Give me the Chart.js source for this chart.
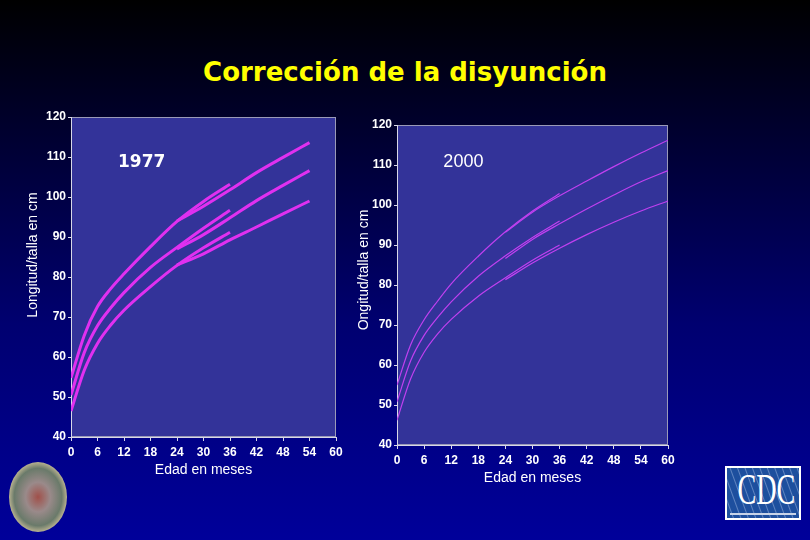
<!DOCTYPE html>
<html>
<head>
<meta charset="utf-8">
<script src="https://cdn.jsdelivr.net/npm/chart.js@4.4.0/dist/chart.umd.min.js"></script>
<style>
html, body { margin: 0; padding: 0; }
body {
  width: 810px; height: 540px; overflow: hidden; position: relative;
  background: linear-gradient(to bottom, #000000 0%, #000030 25%, #000070 60%, #00009a 100%);
  font-family: Arial, "Liberation Sans", sans-serif;
}
#title {
  position: absolute; left: 0; top: 57px; width: 810px; text-align: center;
  color: #ffff00; font: bold 26px "DejaVu Sans", Verdana, sans-serif;
}
canvas { position: absolute; }
#seal {
  position: absolute; left: 9px; top: 462px; width: 58px; height: 70px; border-radius: 50%;
  background: radial-gradient(ellipse at center, #a0504a 0%, #9a8a8a 30%, #6a7a6a 58%, #d8c8a0 76%, #8a7450 100%);
}
#cdc {
  position: absolute; left: 725px; top: 466px; width: 72px; height: 50px;
  border: 2px solid #ffffff; overflow: hidden; color: #ffffff;
  background: repeating-linear-gradient(70deg, #1d4f9e 0px, #1d4f9e 5px, #5f84c0 6px, #1d4f9e 7px);
}
#cdc span {
  position: absolute; left: -4px; top: 2px; width: 80px; text-align: center;
  font: 44px "Liberation Serif", "DejaVu Serif", serif; line-height: 40px;
  transform: scaleX(0.64); transform-origin: center;
}
#cdc i {
  position: absolute; left: 3px; right: 3px; bottom: 3px; height: 2px; background: #c8d4e8;
}
</style>
</head>
<body>
<div id="title">Corrección de la disyunción</div>
<canvas id="c1977" width="360" height="390" style="left:0px;top:100px"></canvas>
<canvas id="c2000" width="350" height="390" style="left:340px;top:100px"></canvas>
<div id="seal"></div>
<div id="cdc"><span>CDC</span><i></i></div>
<script>
// ages in months, length/height in cm
const xTicks = [0, 6, 12, 18, 24, 30, 36, 42, 48, 54, 60];

// 1977 (NCHS) - infant length 0-36, child height 24-54
const infantAges1977 = [0, 3, 6, 9, 12, 18, 24, 30, 36];
const p5Infant1977  = [46.5, 56.7, 63.4, 68.0, 71.7, 77.6, 82.9, 87.3, 91.2];
const p50Infant1977 = [50.5, 61.1, 67.8, 72.3, 76.1, 82.4, 87.4, 92.2, 96.7];
const p95Infant1977 = [54.8, 65.4, 72.6, 77.1, 80.8, 87.6, 93.9, 98.9, 103.2];
const childAges1977 = [24, 30, 36, 42, 48, 54];
const p5Child1977  = [83.0, 85.8, 89.3, 92.5, 95.8, 99.0];
const p50Child1977 = [87.0, 90.6, 94.8, 99.1, 102.9, 106.6];
const p95Child1977 = [94.0, 97.7, 101.8, 106.1, 109.9, 113.6];

// 2000 (CDC) - infant length 0-36, child height 24-60
const infantAges2000 = [0, 3, 6, 9, 12, 18, 24, 30, 36];
const p5Infant2000  = [46.2, 56.5, 63.2, 67.8, 71.4, 77.2, 81.8, 86.2, 90.0];
const p50Infant2000 = [50.8, 61.0, 67.4, 71.9, 75.8, 82.2, 87.3, 91.9, 96.0];
const p95Infant2000 = [55.0, 65.0, 71.3, 76.0, 80.3, 87.2, 93.3, 98.5, 102.9];
const childAges2000 = [24, 30, 36, 42, 48, 54, 60];
const p5Child2000  = [81.3, 85.5, 89.2, 92.6, 95.7, 98.5, 101.0];
const p50Child2000 = [86.6, 91.4, 95.3, 99.0, 102.5, 105.8, 108.6];
const p95Child2000 = [93.2, 98.2, 102.3, 106.0, 109.6, 113.0, 116.2];

const pts = (ages, vals) => ages.map((a, i) => ({x: a, y: vals[i]}));

// fills the plot area, frames it, writes the year and the side title
const plotFrame = {
  id: 'plotFrame',
  beforeDraw(chart) {
    const {ctx, chartArea: a} = chart;
    ctx.save();
    ctx.fillStyle = '#333399';
    ctx.fillRect(a.left, a.top, a.width, a.height);
    ctx.strokeStyle = '#9a9ab8';
    ctx.lineWidth = 1;
    ctx.strokeRect(a.left + 0.5, a.top + 0.5, a.width - 1, a.height - 1);
    ctx.restore();
  },
  afterDatasetsDraw(chart, args, opts) {
    const ctx = chart.ctx;
    ctx.save();
    ctx.fillStyle = '#ffffff';
    ctx.textAlign = 'center';
    ctx.textBaseline = 'middle';
    ctx.font = opts.font;
    ctx.fillText(opts.text, chart.scales.x.getPixelForValue(opts.x), chart.scales.y.getPixelForValue(opts.y));
    // y title sits higher than the plot centre in the original
    ctx.font = '14px Arial, "Liberation Sans", sans-serif';
    ctx.translate(opts.sideX, opts.sideY);
    ctx.rotate(-Math.PI / 2);
    ctx.fillText(opts.side, 0, 0);
    ctx.restore();
  }
};

function growthChart(id, o) {
  const sets = [];
  [[o.infantAges, o.infant], [o.childAges, o.child]].forEach(([ages, group]) => {
    group.forEach(vals => sets.push({
      data: pts(ages, vals),
      borderColor: o.color,
      borderWidth: o.width,
      pointRadius: 0,
      fill: false,
      cubicInterpolationMode: 'monotone'
    }));
  });
  return new Chart(document.getElementById(id), {
    type: 'line',
    data: {datasets: sets},
    plugins: [plotFrame],
    options: {
      responsive: false,
      animation: false,
      layout: {padding: o.pad},
      plugins: {
        legend: {display: false},
        tooltip: {enabled: false},
        plotFrame: {text: o.year, x: o.yearX, y: o.yearY, font: o.yearFont,
                    side: o.yTitle, sideX: o.yTitleX, sideY: o.yTitleY}
      },
      scales: {
        x: {
          type: 'linear', min: 0, max: 60,
          afterBuildTicks: s => { s.ticks = xTicks.map(v => ({value: v})); },
          afterFit: s => { s.height = o.xHeight; },
          grid: {drawOnChartArea: false, color: '#d8d8e8', tickLength: 4},
          border: {color: '#d8d8e8'},
          ticks: {color: '#ffffff', padding: 4, maxRotation: 0, autoSkip: false,
                  font: {family: 'Arial, "Liberation Sans"', size: 12, weight: 'bold'}},
          title: {display: true, text: 'Edad en meses', color: '#ffffff', padding: {top: 1, bottom: 0},
                  font: {family: 'Arial, "Liberation Sans"', size: 14}}
        },
        y: {
          min: 40, max: 120,
          afterFit: s => { s.width = o.yWidth; },
          grid: {drawOnChartArea: false, color: '#d8d8e8', tickLength: 3},
          border: {color: '#d8d8e8'},
          ticks: {stepSize: 10, color: '#ffffff', padding: 2,
                  font: {family: 'Arial, "Liberation Sans"', size: 12, weight: 'bold'}}
        }
      }
    }
  });
}

growthChart('c1977', {
  infantAges: infantAges1977, childAges: childAges1977,
  infant: [p5Infant1977, p50Infant1977, p95Infant1977],
  child: [p5Child1977, p50Child1977, p95Child1977],
  color: '#e030f0', width: 3,
  year: '1977', yearX: 16, yearY: 108.5, yearFont: 'bold 17px "DejaVu Sans", Verdana, sans-serif',
  yTitle: 'Longitud/talla en cm', yTitleX: 33, yTitleY: 155,
  pad: {top: 17, right: 24, left: 0, bottom: 11}, yWidth: 71, xHeight: 42
});

growthChart('c2000', {
  infantAges: infantAges2000, childAges: childAges2000,
  infant: [p5Infant2000, p50Infant2000, p95Infant2000],
  child: [p5Child2000, p50Child2000, p95Child2000],
  color: '#c040f0', width: 1.2,
  year: '2000', yearX: 14.7, yearY: 110.8, yearFont: '18px Arial, "Liberation Sans", sans-serif',
  yTitle: 'Ongitud/talla en cm', yTitleX: 24, yTitleY: 170,
  pad: {top: 25, right: 22, left: 0, bottom: 3}, yWidth: 57, xHeight: 42
});
</script>
</body>
</html>
